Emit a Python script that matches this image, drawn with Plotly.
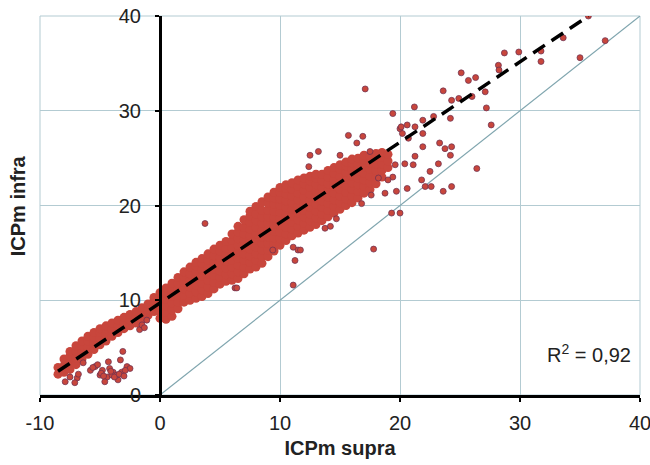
import plotly.graph_objects as go

# Dense band of measurements: column x positions and the y values read in each column
band_col_x = [-8.5, -8.0, -7.5, -7.0, -6.5, -6.0, -5.5, -5.0, -4.5, -4.0, -3.5, -3.0, -2.5, -2.0, -1.5,
              -1.0, -0.5, 0.0, 0.5, 1.0, 1.5, 2.0, 2.5, 3.0, 3.5, 4.0, 4.5, 5.0, 5.5, 6.0, 6.5, 7.0,
              7.5, 8.0, 8.5, 9.0, 9.5, 10.0, 10.5, 11.0, 11.5, 12.0, 12.5, 13.0, 13.5, 14.0, 14.5,
              15.0, 15.5, 16.0, 16.5, 17.0, 17.5, 18.0, 18.5, 19.0]
band_col_y = [
    [2.2, 2.9],
    [2.4, 3.1, 3.8],
    [2.7, 3.4, 4.1, 4.6],
    [3.2, 3.9, 4.6, 5.2],
    [3.8, 4.5, 5.2, 5.7],
    [4.3, 5.0, 5.7, 6.2],
    [4.8, 5.5, 6.1, 6.6],
    [5.3, 6.0, 6.6, 7.0],
    [5.7, 6.4, 7.0, 7.3],
    [6.2, 6.9, 7.6],
    [6.6, 7.3, 7.9],
    [7.0, 7.6, 8.2],
    [7.3, 7.9, 8.5],
    [7.6, 8.2, 8.8],
    [8.0, 8.6, 9.2],
    [8.4, 9.0, 9.6],
    [8.8, 9.4, 10.0, 10.3],
    [8.1, 8.8, 9.5, 10.2, 10.8],
    [8.0, 8.7, 9.4, 10.1, 10.7, 11.3],
    [8.3, 9.0, 9.7, 10.4, 11.1, 11.8],
    [9.1, 9.8, 10.5, 11.2, 11.8, 12.4],
    [9.8, 10.5, 11.2, 11.9, 12.5, 13.0],
    [10.0, 10.7, 11.4, 12.1, 12.8, 13.5],
    [10.2, 10.9, 11.6, 12.3, 13.0, 13.6, 14.0],
    [10.4, 11.1, 11.8, 12.5, 13.2, 13.9, 14.4],
    [10.7, 11.4, 12.1, 12.8, 13.5, 14.2, 14.9],
    [11.2, 11.9, 12.6, 13.3, 14.0, 14.7, 15.4],
    [11.7, 12.4, 13.1, 13.8, 14.5, 15.2, 15.8],
    [12.0, 12.7, 13.4, 14.1, 14.8, 15.5, 16.2],
    [12.1, 12.8, 13.5, 14.2, 14.9, 15.6, 16.3, 17.0],
    [12.3, 13.0, 13.7, 14.4, 15.1, 15.8, 16.5, 17.2, 17.8],
    [12.8, 13.5, 14.2, 14.9, 15.6, 16.3, 17.0, 17.7, 18.5],
    [13.3, 14.0, 14.7, 15.4, 16.1, 16.8, 17.5, 18.2, 18.9, 19.4],
    [13.5, 14.2, 14.9, 15.6, 16.3, 17.0, 17.7, 18.4, 19.1, 19.9],
    [13.9, 14.6, 15.3, 16.0, 16.7, 17.4, 18.1, 18.8, 19.5, 20.4],
    [14.6, 15.3, 16.0, 16.7, 17.4, 18.1, 18.8, 19.5, 20.2, 20.9],
    [15.2, 15.9, 16.6, 17.3, 18.0, 18.7, 19.4, 20.1, 20.8, 21.4],
    [15.8, 16.5, 17.2, 17.9, 18.6, 19.3, 20.0, 20.7, 21.4, 21.9],
    [16.3, 17.0, 17.7, 18.4, 19.1, 19.8, 20.5, 21.2, 21.8, 22.2],
    [16.8, 17.5, 18.2, 18.9, 19.6, 20.3, 21.0, 21.7, 22.4],
    [17.1, 17.8, 18.5, 19.2, 19.9, 20.6, 21.3, 22.0, 22.7],
    [17.4, 18.1, 18.8, 19.5, 20.2, 20.9, 21.6, 22.3, 22.9],
    [17.7, 18.4, 19.1, 19.8, 20.5, 21.2, 21.9, 22.6, 23.1],
    [18.0, 18.7, 19.4, 20.1, 20.8, 21.5, 22.2, 22.9, 23.3],
    [18.4, 19.1, 19.8, 20.5, 21.2, 21.9, 22.6, 23.3],
    [18.8, 19.5, 20.2, 20.9, 21.6, 22.3, 23.0, 23.7],
    [19.2, 19.9, 20.6, 21.3, 22.0, 22.7, 23.4, 24.0],
    [19.6, 20.3, 21.0, 21.7, 22.4, 23.1, 23.8, 24.3],
    [20.0, 20.7, 21.4, 22.1, 22.8, 23.5, 24.2, 24.6],
    [20.3, 21.0, 21.7, 22.4, 23.1, 23.8, 24.5, 24.9],
    [20.8, 21.5, 22.2, 22.9, 23.6, 24.3, 25.0],
    [21.3, 22.0, 22.7, 23.4, 24.1, 24.8, 25.3],
    [21.7, 22.4, 23.1, 23.8, 24.5, 25.2],
    [22.3, 23.0, 23.7, 24.4, 25.1, 25.5],
    [23.0, 23.7, 24.4, 25.1, 25.6],
    [24.0, 24.7, 25.4],
]

# Isolated points
out_x = [-7.9, -6.4, -5.8, -5.4, -5.0, -4.4, -4.3, -3.9, -3.5, -3.3, -3.1, -2.75, -2.5, -1.7, -1.1,
         -6.9, -7.5, -4.8, -4.0, -3.6, -3.2, -4.6, -7.1, -5.2, -6.8, -4.2, -3.8, -2.9, -1.5, -1.3,
         -4.9, -4.1, -3.4, -3.0, -5.6, -4.7,
         3.75, 6.25, 6.4, 11.1, 9.4, 11.5, 11.25, 17.8, 11.7, 11.1, 14.2, 13.75, 14.7,
         12.5, 13.2, 12.4, 15.0, 15.7, 16.9, 16.4, 17.5, 17.1,
         19.4, 21.2, 23.6, 25.1, 25.7, 26.3, 24.3, 24.9, 26.0, 27.1, 27.2, 28.2, 28.25, 28.7,
         29.9, 31.75, 31.75, 33.6, 35.0, 37.1, 35.7, 27.6, 24.2, 21.9, 22.8, 21.9, 21.25, 20.6,
         20.0, 20.2, 20.7, 21.9, 23.3, 23.75, 24.2, 24.3, 26.4, 23.2, 22.5, 21.8, 22.1, 22.6,
         23.6, 24.3, 21.25, 21.1, 20.4, 20.6, 19.6, 19.4, 19.7, 19.0, 18.75, 18.2, 17.6, 19.3,
         20.0, 16.8, 20.1]
out_y = [1.4, 3.4, 2.6, 3.0, 2.1, 1.9, 3.5, 2.4, 1.6, 3.7, 4.6, 3.0, 2.8, 6.9, 7.9,
         1.8, 1.9, 2.6, 2.1, 2.1, 2.4, 1.4, 1.3, 3.2, 2.2, 2.8, 1.9, 2.6, 7.4, 7.1,
         2.3, 2.5, 2.2, 2.0, 2.9, 2.0,
         18.1, 11.3, 11.3, 11.6, 15.3, 15.3, 14.2, 15.4, 15.3, 15.6, 17.8, 17.6, 18.6,
         25.3, 25.7, 24.1, 25.3, 27.4, 27.3, 26.6, 25.7, 32.3,
         29.7, 30.4, 32.1, 34.0, 33.2, 33.5, 31.1, 31.3, 31.5, 32.0, 30.3, 34.8, 34.3, 36.1,
         36.2, 35.2, 36.3, 37.7, 35.6, 37.4, 40.0, 28.5, 29.2, 29.0, 29.4, 27.6, 28.3, 28.5,
         28.1, 27.6, 27.1, 26.2, 26.6, 26.0, 25.3, 26.2, 23.9, 24.4, 23.6, 22.7, 22.0, 22.0,
         21.5, 22.0, 25.2, 24.3, 24.4, 21.8, 24.3, 23.0, 21.5, 22.7, 21.3, 22.9, 21.1, 19.2,
         19.2, 20.2, 28.3]

# Regression line and identity line end points
fit_x = [-8.5, 35.7]
fit_y = [2.5, 40.0]
ident_x = [0, 40]
ident_y = [0, 40]

x_ticks = [-10, 0, 10, 20, 30, 40]
x_tick_text = ["-10", "0", "10", "20", "30", "40"]
y_ticks = [0, 10, 20, 30, 40]

band_x, band_y = [], []
for cx, ys in zip(band_col_x, band_col_y):
    for yv in ys:
        band_x.append(cx)
        band_y.append(yv)

RED = "#c8463c"
GRID = "#b3cbd2"
TXT = "#222222"

fig = go.Figure()
fig.add_trace(go.Scatter(x=ident_x, y=ident_y, mode="lines",
                         line=dict(color="#7fa5ae", width=1.2), hoverinfo="skip"))
fig.add_trace(go.Scatter(x=band_x, y=band_y, mode="markers",
                         marker=dict(color=RED, size=9, line=dict(width=0))))
fig.add_trace(go.Scatter(x=out_x, y=out_y, mode="markers",
                         marker=dict(color=RED, size=6,
                                     line=dict(color="rgba(110,50,80,0.75)", width=1))))
fig.add_trace(go.Scatter(x=fit_x, y=fit_y, mode="lines",
                         line=dict(color="black", width=3.5, dash="14px,8px")))

fig.update_layout(
    width=650, height=465,
    margin=dict(l=40, r=10, t=16, b=70, autoexpand=False),
    paper_bgcolor="white", plot_bgcolor="white",
    showlegend=False,
    font=dict(family="Liberation Sans, Arial, sans-serif", size=20, color=TXT),
    xaxis=dict(range=[-10, 40], tickvals=x_ticks, ticktext=x_tick_text,
               showgrid=True, gridcolor=GRID, gridwidth=1,
               zeroline=False, showline=True, linecolor="black", linewidth=3,
               ticks="outside", ticklen=4, tickwidth=2, tickcolor="black",
               tickfont=dict(size=20, color=TXT), ticklabelstandoff=4,
               automargin=False, ticklabeloverflow="allow",
               title=dict(text="<b>ICPm supra</b>", standoff=8,
                          font=dict(size=20, color=TXT))),
    yaxis=dict(range=[0, 40], tickvals=y_ticks, showgrid=True, gridcolor=GRID, gridwidth=1,
               zeroline=False, showline=True, linecolor="black", linewidth=3,
               anchor="free", position=0.2, automargin=False, ticklabeloverflow="allow",
               tickfont=dict(size=20, color=TXT), ticklabelstandoff=10,
               ticks="outside", ticklen=4, tickwidth=2, tickcolor="black"),
    shapes=[dict(type="rect", xref="paper", yref="paper", x0=0, y0=0, x1=1, y1=1,
                 line=dict(color=GRID, width=1), layer="below")],
    annotations=[
        dict(text="<b>ICPm infra</b>", xref="paper", yref="paper", x=-0.037, y=0.5,
             textangle=-90, showarrow=False, xanchor="center", yanchor="middle",
             font=dict(size=20, color=TXT)),
        dict(text="R<sup>2</sup> = 0,92", xref="x", yref="y", x=39.4, y=4.4,
             xanchor="right", yanchor="middle", showarrow=False,
             font=dict(size=20, color=TXT)),
    ],
)

fig.write_html("out.html", config={"displayModeBar": False},
               post_script="document.body.style.margin='0';")
